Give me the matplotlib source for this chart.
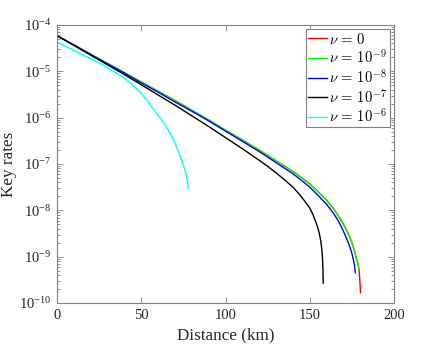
import numpy as np
import matplotlib
matplotlib.use('Agg')
import matplotlib.pyplot as plt
from matplotlib.font_manager import FontProperties
from matplotlib.ticker import FixedLocator, LogLocator, NullFormatter

###############################################################################
# Data: distance in km, key rate given as log10 value

dist_nu0 = [0, 10, 20, 30, 40, 50, 60, 70, 80, 90, 100, 110, 120, 130, 140, 145, 150,
            155, 160, 164, 167, 170, 172, 174, 175.5, 176.7, 177.7, 178.6, 179.2,
            179.6, 179.9, 180.1]
lograte_nu0 = [-4.23, -4.43, -4.63, -4.83, -5.03, -5.23, -5.43, -5.63, -5.84, -6.05,
               -6.27, -6.48, -6.70, -6.93, -7.16, -7.29, -7.43, -7.60, -7.78, -7.96,
               -8.12, -8.30, -8.44, -8.60, -8.75, -8.90, -9.04, -9.15, -9.27,
               -9.45, -9.62, -9.78]

dist_nu9 = [0, 10, 20, 30, 40, 50, 60, 70, 80, 90, 100, 110, 120, 130, 140, 145, 150,
            155, 160, 164, 167, 170, 172, 174, 175.5, 176.7, 177.7, 178.6, 179.2]
lograte_nu9 = [-4.23, -4.43, -4.63, -4.83, -5.03, -5.23, -5.43, -5.63, -5.84, -6.05,
               -6.27, -6.48, -6.70, -6.93, -7.16, -7.29, -7.43, -7.60, -7.78, -7.96,
               -8.12, -8.30, -8.44, -8.60, -8.75, -8.90, -9.04, -9.15, -9.27]

dist_nu8 = [0, 10, 20, 30, 40, 50, 60, 70, 80, 90, 100, 110, 120, 130, 140, 145, 150,
            155, 160, 164, 167, 170, 172, 173.5, 174.8, 175.8, 176.5, 177.1]
lograte_nu8 = [-4.23, -4.43, -4.64, -4.84, -5.04, -5.25, -5.45, -5.66, -5.86, -6.07,
               -6.29, -6.51, -6.73, -6.97, -7.21, -7.35, -7.50, -7.68, -7.87, -8.06,
               -8.23, -8.45, -8.62, -8.76, -8.90, -9.05, -9.18, -9.35]

dist_nu7 = [0, 10, 20, 30, 40, 50, 60, 70, 80, 90, 100, 110, 120, 125, 130, 135, 140,
            144, 147, 150, 152, 154, 155.5, 156.5, 157.2, 157.6, 157.85, 158]
lograte_nu7 = [-4.23, -4.44, -4.65, -4.86, -5.07, -5.29, -5.51, -5.73, -5.96, -6.19,
               -6.43, -6.67, -6.92, -7.05, -7.19, -7.34, -7.50, -7.66, -7.80, -7.95,
               -8.10, -8.29, -8.47, -8.65, -8.85, -9.05, -9.30, -9.57]

dist_nu6 = [0, 5, 10, 15, 20, 25, 30, 35, 40, 45, 50, 55, 60, 64, 67, 70, 72, 74,
            75.5, 76.5, 77.2, 77.6, 77.9]
lograte_nu6 = [-4.37, -4.46, -4.55, -4.64, -4.73, -4.82, -4.92, -5.03, -5.15, -5.30,
               -5.48, -5.70, -5.95, -6.15, -6.33, -6.55, -6.72, -6.92, -7.08, -7.20,
               -7.32, -7.42, -7.53]

labels = [r'$\nu\,=\,0$', r'$\nu\,=\,10^{-9}$', r'$\nu\,=\,10^{-8}$',
          r'$\nu\,=\,10^{-7}$', r'$\nu\,=\,10^{-6}$']
colors = ['#ff0000', '#00ff00', '#0000ff', '#000000', '#00ffff']

x_ticks = [0, 50, 100, 150, 200]
y_exps = [-10, -9, -8, -7, -6, -5, -4]

###############################################################################

plt.rcParams['font.family'] = 'Liberation Serif'
plt.rcParams['mathtext.fontset'] = 'custom'
plt.rcParams['mathtext.rm'] = 'Liberation Serif'
plt.rcParams['mathtext.it'] = 'Liberation Serif:italic'
plt.rcParams['font.size'] = 10.5

axcol = '0.5'
txtcol = '0.15'

fig = plt.figure(figsize=(4.36, 3.44), dpi=100)
ax = fig.add_axes([57/436, 1-303/344, 337/436, 278/344])

series = [(dist_nu0, lograte_nu0), (dist_nu9, lograte_nu9), (dist_nu8, lograte_nu8),
          (dist_nu7, lograte_nu7), (dist_nu6, lograte_nu6)]
for (d, lr), c, lab in zip(series, colors, labels):
    ax.plot(d, 10.0**np.array(lr), color=c, lw=1.0, label=lab)

ax.set_yscale('log')
ax.set_xlim(0, 200)
ax.set_ylim(1e-10, 1e-4)
ax.xaxis.set_major_locator(FixedLocator(x_ticks))
ax.yaxis.set_major_locator(FixedLocator([10.0**e for e in y_exps]))
ax.set_yticklabels([r'$\mathregular{10^{%d}}$' % e for e in y_exps])
ax.yaxis.set_minor_locator(LogLocator(base=10, subs=np.arange(2, 10)))
ax.yaxis.set_minor_formatter(NullFormatter())

for s in ax.spines.values():
    s.set_color(axcol)
    s.set_linewidth(0.8)
ax.tick_params(which='both', direction='in', top=True, right=True, color=axcol,
               labelcolor=txtcol, width=0.6)
ax.tick_params(which='major', length=4, pad=4)
ax.tick_params(which='minor', length=2)

ax.set_xlabel('Distance (km)', color=txtcol, fontsize=12.3, labelpad=4)
ax.set_ylabel('Key rates', color=txtcol, fontsize=12.3)
ax.yaxis.set_label_coords(-0.118, 0.5)

leg_font = FontProperties(family='Liberation Serif', size=10.5, math_fontfamily='cm')
leg = ax.legend(loc='upper right', prop=leg_font, fancybox=False, framealpha=1,
                edgecolor=axcol, handlelength=1.3, handletextpad=0.15,
                borderaxespad=0.3, borderpad=0.15, labelspacing=0.12)
leg.get_frame().set_linewidth(0.8)

fig.savefig('out.png', dpi=100)
